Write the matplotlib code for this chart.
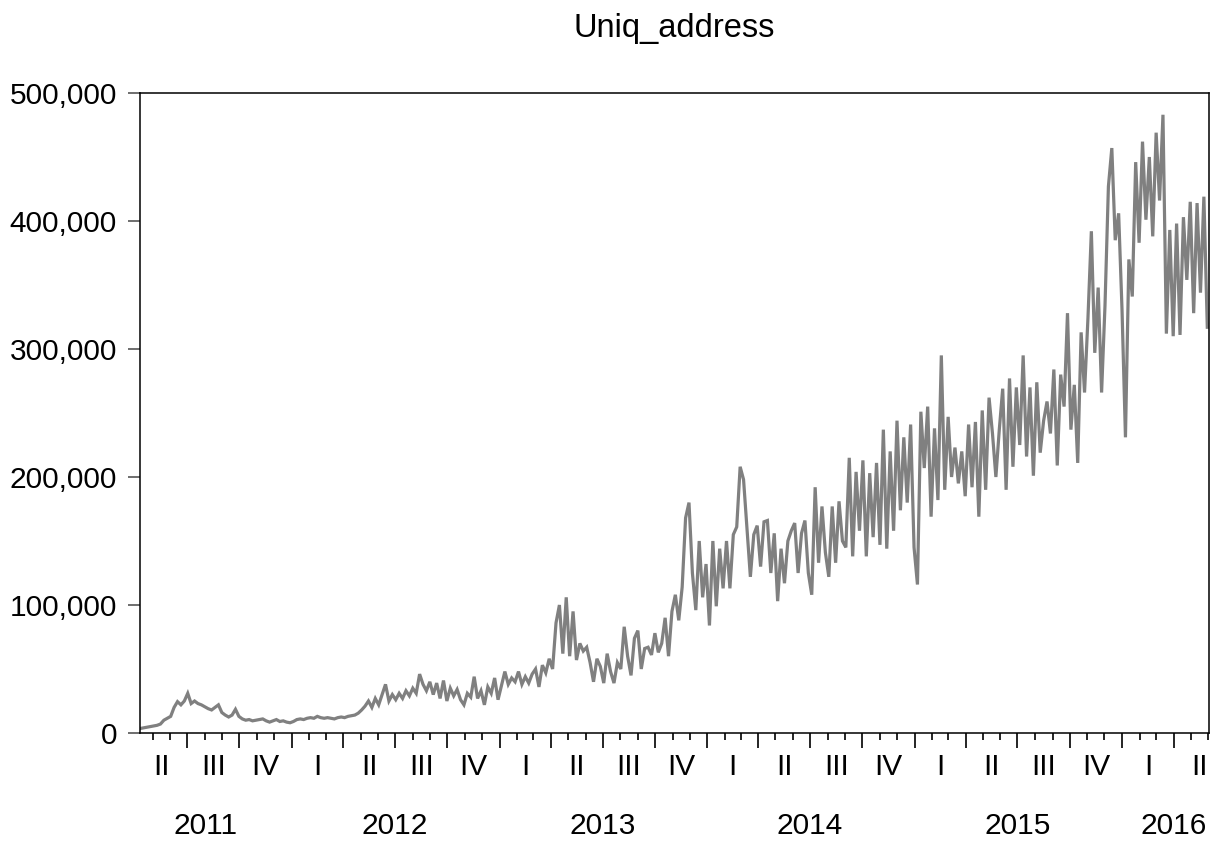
import numpy as np
import pandas as pd
import matplotlib
matplotlib.use("Agg")
import matplotlib.pyplot as plt
import matplotlib.dates as mdates
from matplotlib.ticker import FuncFormatter, NullFormatter
from matplotlib.transforms import blended_transform_factory

plt.rcParams['font.family'] = ['Liberation Sans', 'DejaVu Sans']

# unique addresses per day, one reading every 6 days (thousands)
start_date = "2011-04-09"
end_date = "2016-06-02"
uniq_address_k = [
    # 2011
    3.5, 4, 4.5, 5, 5.5, 6, 7, 10, 11.5, 13, 20, 24.5, 22, 25, 31, 23, 25, 23, 22, 20.5, 19, 18, 20,
    22, 16, 14, 12.5, 14, 18.5, 13, 11, 10, 10.5, 9.5, 10, 10.5, 11, 9.5, 8.5, 9.5, 10.5, 9, 9.5, 8.5, 8,
    # 2012
    9, 10.5, 11, 10.5, 11.5, 12, 11.5, 13, 12, 11.5, 12, 11.5, 11, 12, 12.5,
    12, 13, 13.5, 14, 15.5, 18, 21, 25, 20, 27, 22, 30, 38, 25, 30,
    26, 31, 27, 33, 29, 35, 31, 46, 38, 33, 40, 30, 39, 27, 41, 25,
    35, 29, 34, 26, 22, 31, 28, 44, 27, 33, 22, 36, 31, 43, 26,
    # 2013
    37, 48, 38, 43, 40, 48, 38, 44, 39, 46, 50, 36, 53, 47, 58,
    50, 86, 100, 62, 106, 60, 95, 57, 70, 64, 67, 55, 40, 58, 52,
    39, 62, 48, 39, 55, 50, 83, 60, 45, 74, 80, 50, 66, 67, 61,
    78, 63, 70, 90, 60, 95, 108, 88, 114, 168, 180, 125, 96, 150, 106, 132,
    # 2014
    84, 150, 99, 144, 113, 150, 113, 155, 161, 208, 198, 160, 122, 155, 162,
    130, 165, 166, 125, 156, 103, 144, 117, 150, 158, 164, 125, 156, 166, 125,
    108, 192, 133, 177, 141, 122, 177, 133, 181, 150, 145, 215, 138, 204, 158, 213,
    138, 203, 153, 211, 147, 237, 144, 220, 158, 244, 174, 231, 180, 241, 145,
    # 2015
    116, 251, 207, 255, 169, 238, 182, 295, 190, 247, 200, 223, 195, 220, 185,
    241, 192, 243, 169, 252, 190, 262, 234, 200, 237, 269, 190, 277, 208, 270,
    225, 295, 216, 270, 201, 274, 219, 244, 259, 234, 284, 209, 280, 255, 328, 237,
    272, 211, 313, 266, 324, 392, 297, 348, 266, 334, 427, 457, 385, 406, 330, 231,
    # 2016
    370, 341, 446, 383, 462, 401, 450, 388, 469, 416, 483, 312, 393, 310, 398,
    311, 403, 354, 415, 328, 414, 344, 419, 317,
]

quarter_names = ["I", "II", "III", "IV"]
year_labels = ["2011", "2012", "2013", "2014", "2015", "2016"]
year_label_dates = ["2011-08-03", "2012-07-01", "2013-07-01", "2014-07-01", "2015-07-01", "2016-04-01"]

dates = pd.date_range(start_date, periods=len(uniq_address_k), freq="6D")
values = np.array(uniq_address_k) * 1000

fig = plt.figure(figsize=(12.13, 8.43), dpi=100)
ax = fig.add_axes([140 / 1213, 110 / 843, 1069 / 1213, 640 / 843])

ax.plot(dates, values, color="#808080", lw=2.3, solid_joinstyle='miter')

ax.set_xlim(pd.Timestamp(start_date), pd.Timestamp(end_date))
ax.set_ylim(0, 500000)
ax.set_yticks(np.arange(0, 500001, 100000))
ax.yaxis.set_major_formatter(FuncFormatter(lambda v, p: f"{int(v):,}"))

ax.xaxis.set_major_locator(mdates.MonthLocator(bymonth=[1, 4, 7, 10]))
ax.xaxis.set_minor_locator(mdates.MonthLocator())
ax.xaxis.set_major_formatter(NullFormatter())
ax.tick_params(axis='x', which='major', direction='out', length=10.8, width=1.2, color='black')
ax.tick_params(axis='x', which='minor', direction='out', length=5, width=1.2, color='black')
ax.tick_params(axis='y', direction='out', length=8.6, width=1.2, color='#555555',
               labelsize=21.5, pad=8)

for s in ax.spines.values():
    s.set_linewidth(1.1)
    s.set_color('black')

# quarter labels centred on each quarter, years underneath
trans = blended_transform_factory(ax.transData, fig.transFigure)
for p in pd.period_range("2011Q2", "2016Q2", freq="Q"):
    mid = p.start_time + (p.end_time - p.start_time) / 2
    ax.text(mdates.date2num(mid), 1 - 767 / 843, quarter_names[p.quarter - 1],
            transform=trans, ha='center', va='center', fontsize=21.5, clip_on=False)
for lab, d in zip(year_labels, year_label_dates):
    ax.text(mdates.date2num(pd.Timestamp(d)), 1 - 826 / 843, lab,
            transform=trans, ha='center', va='center', fontsize=21.5, clip_on=False)

fig.text(674.5 / 1213, 1 - 28 / 843, "Uniq_address", ha='center', va='center', fontsize=23.5)

fig.savefig("out.png", dpi=100)
